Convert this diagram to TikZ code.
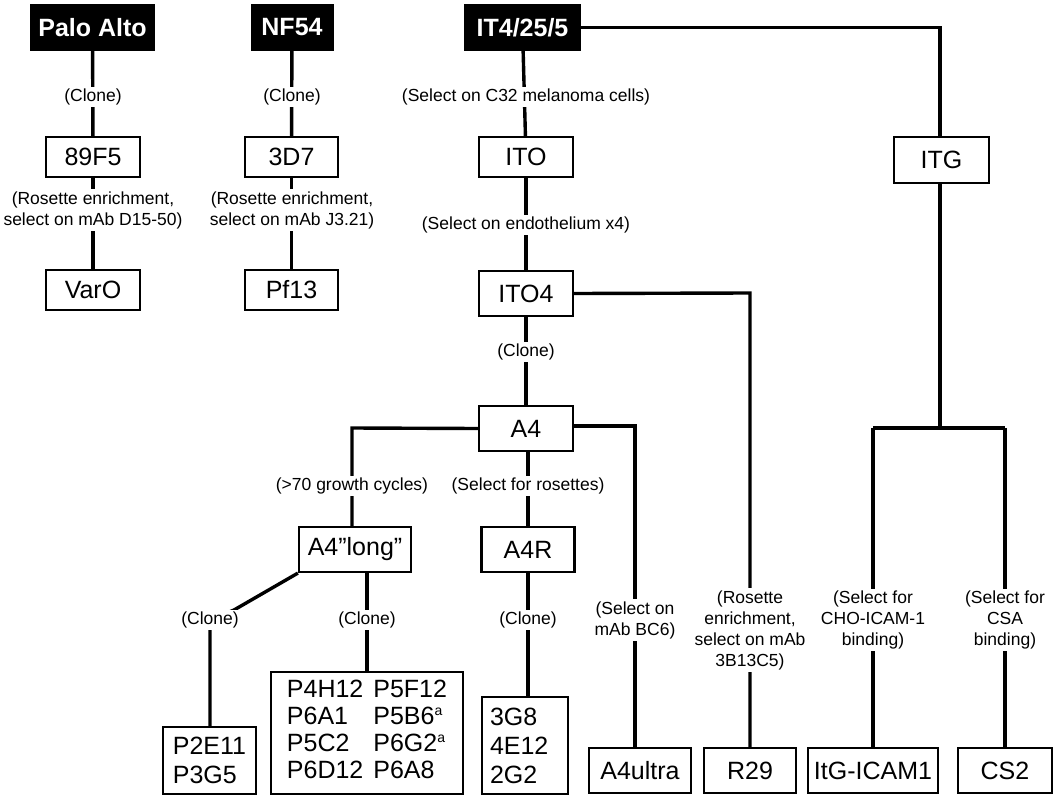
\documentclass[tikz,border=0pt]{standalone}
\usepackage{fontspec}
\setmainfont{Liberation Sans}
\begin{document}
\begin{tikzpicture}[x=1pt,y=-1pt,
  box/.style={draw,line width=2.2pt,font=\fontsize{25}{28}\selectfont,inner sep=0pt,anchor=center},
  top/.style={fill=black,text=white,inner sep=0pt,font=\bfseries\fontsize{25}{28}\selectfont},
  lab/.style={fill=white,inner sep=2pt,font=\fontsize{17.5}{21}\selectfont,align=center},
  ln/.style={line width=3.4pt}]
\useasboundingbox (0,0) rectangle (1058,800);
% top
\node[top,minimum width=125,minimum height=47] (pa) at (92.5,27.5) {Palo Alto};
\node[top,minimum width=83,minimum height=47] (nf) at (292,27.5) {NF54};
\node[top,minimum width=117,minimum height=47] (it) at (522.5,27.5) {IT4/25/5};
% boxes
\node[box,minimum width=94,minimum height=40] (f5) at (93,157) {89F5};
\node[box,minimum width=94,minimum height=40] (varo) at (93,290) {VarO};
\node[box,minimum width=93,minimum height=40] (d7) at (291.5,157) {3D7};
\node[box,minimum width=93,minimum height=40] (pf) at (291.5,290) {Pf13};
\node[box,minimum width=94,minimum height=40] (ito) at (526,157) {ITO};
\node[box,minimum width=95,minimum height=46] (itg) at (941.5,160) {ITG};
\node[box,minimum width=94,minimum height=45] (ito4) at (526,293.5) {ITO4};
\node[box,minimum width=94,minimum height=45] (a4) at (526,428.5) {A4};
\node[box,minimum width=112,minimum height=45] (al) at (355,549.5) {A4”long”};
\node[box,minimum width=93,minimum height=45] (a4r) at (528,549.5) {A4R};
\node[box,minimum width=93,minimum height=67,align=left,font=\fontsize{25}{29}\selectfont] (p2) at (209.5,760.5) {P2E11\\P3G5};
\node[box,minimum width=192,minimum height=122,font=\fontsize{25}{29}\selectfont] (pbig) at (367,733) {\renewcommand{\arraystretch}{0.93}\begin{tabular}{@{}l@{\hspace{10pt}}l@{}}P4H12 & P5F12\\P6A1 & P5B6\textsuperscript{\fontsize{14}{14}\selectfont a}\\P5C2 & P6G2\textsuperscript{\fontsize{14}{14}\selectfont a}\\P6D12 & P6A8\end{tabular}};
\node[box,minimum width=86,minimum height=97,align=left,font=\fontsize{25}{29}\selectfont,text width=70] (g8) at (525,745.5) {3G8\\4E12\\2G2};
\node[box,minimum width=102,minimum height=45] (ult) at (640,770.5) {A4ultra};
\node[box,minimum width=92,minimum height=45] (r29) at (750,770.5) {R29};
\node[box,minimum width=130,minimum height=45] (icam) at (873,770.5) {ItG-ICAM1};
\node[box,minimum width=94,minimum height=45] (cs2) at (1005,770.5) {CS2};
% helper coordinates
\coordinate (c1) at (940,27.5);
\coordinate (c2) at (750,293);
\coordinate (c3) at (352,428);
\coordinate (c4) at (635,426);
\coordinate (c5) at (940,428);
\coordinate (c6) at (873,428);
\coordinate (c7) at (1005,428);
\coordinate (c8) at (210,620);
% connectors
\draw[ln] (pa) -- (f5); \draw[ln] (f5) -- (varo);
\draw[ln] (nf) -- (d7); \draw[ln] (d7) -- (pf);
\draw[ln] (it) -- (ito); \draw[ln] (ito) -- (ito4); \draw[ln] (ito4) -- (a4);
\draw[ln] (it.east) -- (c1) -- (c1 |- itg.north);
\draw[ln] (ito4.east) -- (c2) -- (r29.north);
\draw[ln] (a4.west) -- (c3) -- (c3 |- al.north);
\draw[ln] (a4.east |- c4) -- (c4) -- (c4 |- ult.north);
\draw[ln] (a4.south -| a4r.north) -- (a4r.north);
\draw[ln] (a4r) -- (a4r |- g8.north);
\draw[ln] (c5 |- itg.south) -- (c5);
\draw[ln] (c6) -- (c7);
\draw[ln] (c6) -- (icam); \draw[ln] (c7) -- (cs2);
\draw[ln] (al.south west) -- (234,610) -- (c8) -- (c8 |- p2.north);
\draw[ln] (al.south -| pbig.north) -- (pbig.north);
% labels
\node[lab] (l1) at (93,97) {(Clone)};
\node[lab] (l2) at (292,97) {(Clone)};
\node[lab] (l3) at (526,97) {(Select on C32 melanoma cells)};
\node[lab] (l4) at (93,210) {(Rosette enrichment,\\select on mAb D15-50)};
\node[lab] (l5) at (292,210) {(Rosette enrichment,\\select on mAb J3.21)};
\node[lab] (l6) at (526,225) {(Select on endothelium x4)};
\node[lab] (l7) at (526,352) {(Clone)};
\node[lab] (l8) at (352,486) {(>70 growth cycles)};
\node[lab] (l9) at (528,486) {(Select for rosettes)};
\node[lab] (l10) at (210,620) {(Clone)};
\node[lab] (l11) at (367,620) {(Clone)};
\node[lab] (l12) at (528,620) {(Clone)};
\node[lab] (l13) at (635,620) {(Select on\\mAb BC6)};
\node[lab] (l14) at (750,630) {(Rosette\\enrichment,\\select on mAb\\3B13C5)};
\node[lab] (l15) at (873,620) {(Select for\\CHO-ICAM-1\\binding)};
\node[lab] (l16) at (1005,620) {(Select for\\CSA\\binding)};
\end{tikzpicture}
\end{document}
